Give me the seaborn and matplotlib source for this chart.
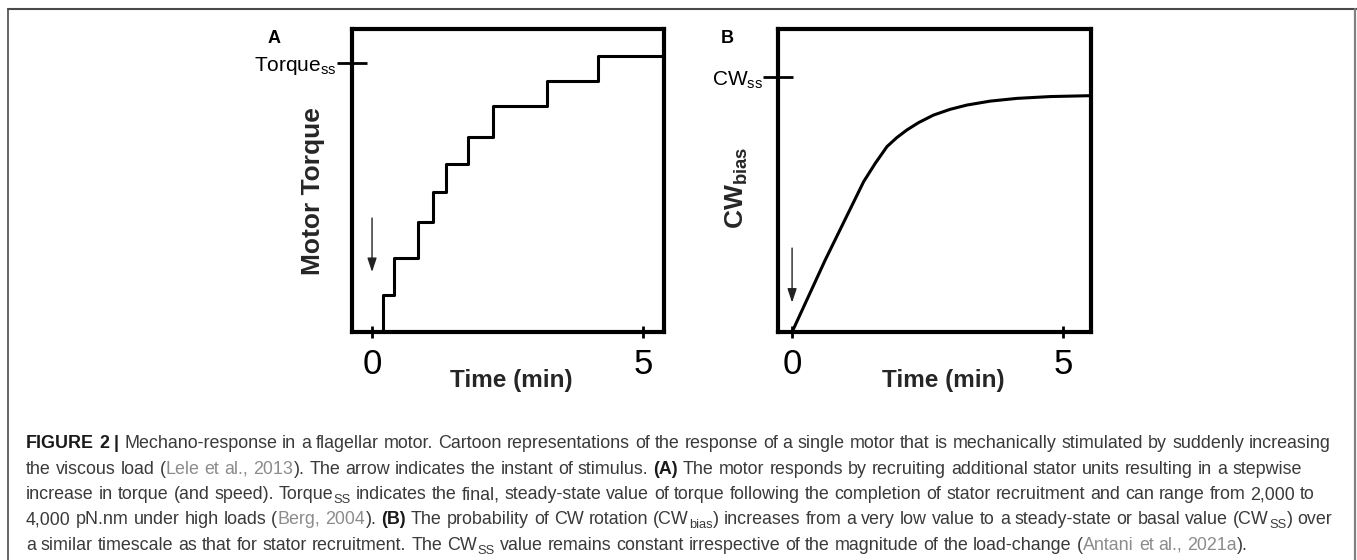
import re
import matplotlib
matplotlib.use('Agg')
import matplotlib.pyplot as plt
from matplotlib.lines import Line2D
import seaborn as sns

# panel A: stepwise rise of motor torque (fraction of axis height) vs time (min)
step_t = [0.197, 0.197, 0.41, 0.855, 1.13, 1.36, 1.78, 2.24, 3.23, 4.18, 5.39]
step_torque = [0, 0.122, 0.243, 0.364, 0.461, 0.553, 0.645, 0.746, 0.828, 0.911, 0.911]
torque_ss = 0.888

# panel B: CW bias vs time (min)
cw_t = [0, 0.613, 1.321, 1.537, 1.753, 1.937, 2.122, 2.336, 2.613, 2.921, 3.229, 3.659, 4.151, 4.766, 5.52]
cw_bias = [0, 0.238, 0.496, 0.557, 0.612, 0.642, 0.667, 0.691, 0.716, 0.735, 0.749, 0.762, 0.771, 0.777, 0.780]
cw_ss = 0.84

time_ticks = [0, 5]
time_labels = ['0', '5']
stim_t = 0
arrow_a = [0.376, 0.198]   # start, tip
arrow_b = [0.277, 0.097]

caption = [
    [("FIGURE 2 |", 'b'), (" Mechano-response in a flagellar motor. Cartoon representations of the response "
                            "of a single motor that is mechanically stimulated by suddenly increasing", 'n')],
    [("the viscous load (", 'n'), ("Lele et al., 2013", 'c'), ("). The arrow indicates the instant of stimulus. ", 'n'),
     ("(A)", 'b'), (" The motor responds by recruiting additional stator units resulting in a stepwise", 'n')],
    [("increase in torque (and speed). Torque", 'n'), ("SS", 's'),
     (" indicates the final, steady-state value of torque following the completion of stator recruitment "
      "and can range from 2,000 to", 'n')],
    [("4,000 pN.nm under high loads (", 'n'), ("Berg, 2004", 'c'), ("). ", 'n'), ("(B)", 'b'),
     (" The probability of CW rotation (CW", 'n'), ("bias", 's'),
     (") increases from a very low value to a steady-state or basal value (CW", 'n'), ("SS", 's'), (") over", 'n')],
    [("a similar timescale as that for stator recruitment. The CW", 'n'), ("SS", 's'),
     (" value remains constant irrespective of the magnitude of the load-change (", 'n'),
     ("Antani et al., 2021a", 'c'), (").", 'n')],
]

sns.set_theme(style='ticks')
plt.rcParams['font.family'] = ['Liberation Sans', 'DejaVu Sans']
plt.rcParams['mathtext.fontset'] = 'custom'
plt.rcParams['mathtext.rm'] = 'Liberation Sans'
plt.rcParams['mathtext.bf'] = 'Liberation Sans:bold'
plt.rcParams['text.color'] = 'black'

W, H = 1357, 560
fig = plt.figure(figsize=(W / 100, H / 100), dpi=100)


def px_axes(l, t, r, b):
    return fig.add_axes([l / W, 1 - b / H, (r - l) / W, (b - t) / H])


axA = px_axes(352, 29, 664, 332)
axB = px_axes(778, 29, 1091, 332)

sns.lineplot(x=step_t, y=step_torque, ax=axA, estimator=None, sort=False,
             drawstyle='steps-post', color='black', lw=2.2)
sns.lineplot(x=cw_t, y=cw_bias, ax=axB, estimator=None, sort=False, color='black', lw=2.2)


def style(ax, xlim, ss, ss_label, ylabel, ylab_fs, xlab_x, ylab_x, ylab_y, arrow):
    ax.set_xlim(*xlim)
    ax.set_ylim(0, 1)
    for s in ax.spines.values():
        s.set_visible(True)
        s.set_linewidth(3)
        s.set_color('black')
    ax.set_xticks(time_ticks)
    ax.set_xticklabels(time_labels)
    ax.tick_params(axis='x', direction='inout', length=9, width=2, labelsize=25, pad=7,
                   colors='black', bottom=True)
    ax.set_yticks([ss])
    ax.set_yticklabels([ss_label])
    ax.tick_params(axis='y', direction='inout', length=22, width=2, labelsize=15, pad=0,
                   colors='black', left=True)
    ax.set_xlabel('Time (min)', fontsize=17.5, fontweight='bold')
    ax.xaxis.set_label_coords(xlab_x, -0.122)
    ax.set_ylabel(ylabel, fontsize=ylab_fs, fontweight='bold')
    ax.yaxis.set_label_coords(ylab_x, ylab_y)
    ax.annotate('', xy=(stim_t, arrow[1]), xytext=(stim_t, arrow[0]),
                arrowprops=dict(arrowstyle='-|>,head_length=0.6,head_width=0.2', color='#222222',
                                lw=1, mutation_scale=14, shrinkA=0, shrinkB=0))


style(axA, (-0.37, 5.39), torque_ss, r'Torque$_{\mathrm{ss}}$', 'Motor Torque', 19,
      0.51, -0.088, 0.465, arrow_a)
style(axB, (-0.26, 5.52), cw_ss, r'CW$_{\mathrm{ss}}$', r'$\mathbf{CW_{bias}}$', 19,
      0.527, -0.088, 0.476, arrow_b)

fig.text(268 / W, 1 - 42.7 / H, 'A', fontsize=13, fontweight='bold', va='baseline')
fig.text(721 / W, 1 - 42.7 / H, 'B', fontsize=13, fontweight='bold', va='baseline')

# frame around the figure
fig.add_artist(Line2D([7.5 / W, 1], [1 - 8.7 / H] * 2, color='#4a4a4a', lw=1.5))
fig.add_artist(Line2D([7.8 / W] * 2, [0, 1 - 8.7 / H], color='#4a4a4a', lw=1.2))
fig.add_artist(Line2D([1355.3 / W] * 2, [0, 1 - 8.7 / H], color='#808080', lw=1.6))

# caption, drawn word by word so mixed styles line up
colors = {'n': '#3a3a3a', 'b': '#1a1a1a', 'c': '#8c8c8c', 's': '#3a3a3a'}
renderer = fig.canvas.get_renderer()


def draw_caption(fs, x0, baselines):
    texts, ends = [], []
    fs_px = fs * 100 / 72
    for parts, yb in zip(caption, baselines):
        x = x0
        for text, kind in parts:
            for tok in re.findall(r'\s+|\S+', text):
                if tok.isspace():
                    x += 0.26 * fs_px * len(tok)
                    continue
                size = fs * 0.72 if kind == 's' else fs
                y = yb + 0.2 * fs_px if kind == 's' else yb
                t = fig.text(x / W, 1 - y / H, tok, fontsize=size, color=colors[kind],
                             fontweight='bold' if kind == 'b' else 'normal', va='baseline')
                x += t.get_window_extent(renderer).width + 0.02 * fs_px
                texts.append(t)
        ends.append(x)
    return texts, ends


base = [448, 473.5, 499, 524.5, 550]
tmp, ends = draw_caption(10, 26, base)
for t in tmp:
    t.remove()
fs = 10 * (1337 - 26) / (ends[0] - 26)
draw_caption(fs, 26, base)

fig.savefig('out.png', dpi=100)
